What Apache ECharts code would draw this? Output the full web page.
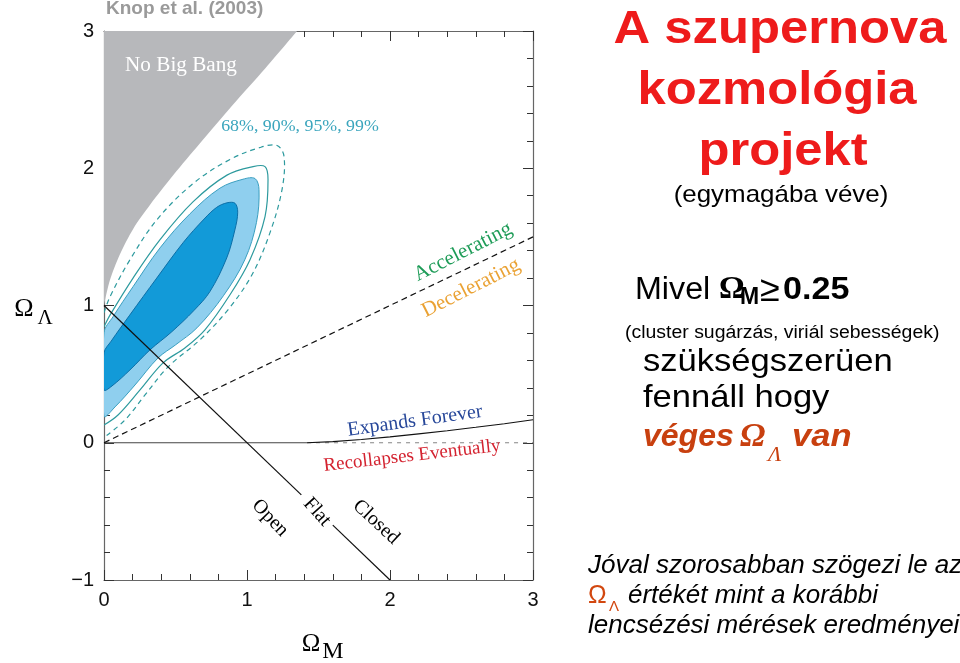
<!DOCTYPE html>
<html>
<head>
<meta charset="utf-8">
<title>A szupernova kozmológia projekt</title>
<script src="https://cdn.jsdelivr.net/npm/echarts@6/dist/echarts.min.js"></script>
<style>
  html, body { margin: 0; padding: 0; background: #fff; }
  #chart { width: 960px; height: 663px; }
</style>
</head>
<body>
<div id="chart"></div>
<script>
// Omega_M (x) against Omega_Lambda (y)
const noBigBangEdge = [[0, 1.0], [0.04, 1.18], [0.11, 1.37], [0.205, 1.56], [0.32, 1.73],
  [0.485, 1.95], [0.67, 2.18], [0.90, 2.46], [1.13, 2.73], [1.35, 3.0]];

// confidence contours (cut by the Omega_M = 0 axis)
const contour68 = [[0, 0.655], [0.05, 0.74], [0.18, 0.93], [0.369, 1.2], [0.555, 1.46],
  [0.70, 1.63], [0.788, 1.715], [0.86, 1.748], [0.916, 1.745], [0.935, 1.68], [0.915, 1.55],
  [0.858, 1.346], [0.741, 1.102], [0.63, 0.965], [0.47, 0.805], [0.322, 0.677], [0.182, 0.531],
  [0.056, 0.414], [0, 0.385]];
const contour90 = [[0, 0.801], [0.063, 0.918], [0.203, 1.137], [0.392, 1.420], [0.601, 1.668],
  [0.811, 1.855], [0.972, 1.920], [1.056, 1.925], [1.084, 1.845], [1.066, 1.604], [0.985, 1.334],
  [0.835, 1.071], [0.650, 0.837], [0.500, 0.713], [0.378, 0.618], [0.217, 0.421], [0.077, 0.261], [0, 0.195]];
const contour95 = [[0, 0.845], [0.042, 0.930], [0.203, 1.200], [0.392, 1.480], [0.622, 1.755],
  [0.860, 1.950], [1.042, 2.012], [1.126, 2.012], [1.147, 1.918], [1.126, 1.648], [1.021, 1.334],
  [0.881, 1.078], [0.706, 0.823], [0.566, 0.691], [0.413, 0.582], [0.252, 0.385], [0.098, 0.202], [0, 0.129]];
const contour99 = [[0, 0.947], [0.042, 1.064], [0.182, 1.334], [0.371, 1.626], [0.622, 1.888],
  [0.881, 2.064], [1.091, 2.151], [1.210, 2.166], [1.259, 2.086], [1.245, 1.845], [1.161, 1.531],
  [1.035, 1.224], [0.867, 0.969], [0.671, 0.750], [0.448, 0.553], [0.287, 0.348], [0.147, 0.166], [0.014, 0.049]];

const flatLineA = [[0, 1], [1.38, -0.38]];
const flatLineB = [[1.6, -0.6], [2, -1]];
const accelLine = [[0, 0], [3, 1.5]];
const zeroLine = [[0, 0], [1.42, 0]];
const zeroDashed = [[1.42, 0], [3, 0]];
const recollapseEdge = [[1.42, 0], [1.6, 0.008], [1.8, 0.024], [2.0, 0.043], [2.2, 0.065],
  [2.4, 0.088], [2.6, 0.113], [2.8, 0.139], [3.0, 0.167]];

const SANS = '"Liberation Sans", Arial, sans-serif';
const SERIF = '"Liberation Serif", "Times New Roman", serif';

function shape(type, points, style) {
  return {
    type: 'custom',
    coordinateSystem: 'cartesian2d',
    clip: true,
    silent: true,
    data: [[0, 0]],
    renderItem: function (params, api) {
      return {
        type: type,
        shape: { points: points.map(function (p) { return api.coord(p); }), smooth: 0.35 },
        style: style
      };
    }
  };
}

function line(data, color, width, type) {
  return {
    type: 'line', data: data, showSymbol: false, silent: true,
    lineStyle: { color: color, width: width, type: type || 'solid' }
  };
}

function txt(text, x, y, o) {
  o = o || {};
  return {
    type: 'text', x: x, y: y, z: 100,
    rotation: (o.rot || 0) * Math.PI / 180,
    scaleX: o.sx || 1,
    style: {
      text: text,
      fontFamily: o.family || SANS,
      fontSize: o.size || 16,
      fontWeight: o.weight || 'normal',
      fontStyle: o.style || 'normal',
      fill: o.color || '#000',
      align: o.align || 'left',
      verticalAlign: 'middle'
    }
  };
}

function axisCommon(showLabel) {
  return {
    type: 'value',
    interval: 1,
    axisLine: { show: true, onZero: false, lineStyle: { color: '#666', width: 1.2 } },
    axisTick: { show: true, inside: true, length: 10, lineStyle: { color: '#333' } },
    minorTick: { show: true, splitNumber: 5, length: 6, lineStyle: { color: '#333' } },
    splitLine: { show: false },
    minorSplitLine: { show: false },
    axisLabel: {
      show: showLabel, margin: 10, fontSize: 20, color: '#111', fontFamily: SANS,
      showMinLabel: true, showMaxLabel: true,
      formatter: function (v) { return v < 0 ? '\u2212' + (-v) : String(v); }
    }
  };
}

const chart = echarts.init(document.getElementById('chart'));
chart.setOption({
  animation: false,
  backgroundColor: '#fff',
  grid: { left: 104, top: 31, width: 429, height: 549 },
  xAxis: [
    Object.assign(axisCommon(true), { min: 0, max: 3, position: 'bottom' }),
    Object.assign(axisCommon(false), { min: 0, max: 3, position: 'top' })
  ],
  yAxis: [
    Object.assign(axisCommon(true), { min: -1, max: 3, position: 'left' }),
    Object.assign(axisCommon(false), { min: -1, max: 3, position: 'right' })
  ],
  series: [
    {
      type: 'line', data: noBigBangEdge, smooth: 0.3, showSymbol: false, silent: true,
      lineStyle: { width: 0 },
      areaStyle: { color: '#b7b8bb', origin: 'end', opacity: 1 }
    },
    shape('polygon', contour90, { fill: '#8fcfee', stroke: '#3a9fc0', lineWidth: 1 }),
    shape('polygon', contour68, { fill: '#129ad8', stroke: '#0b6fa8', lineWidth: 1 }),
    shape('polyline', contour95, { fill: null, stroke: '#2d9a9e', lineWidth: 1.2 }),
    shape('polyline', contour99, { fill: null, stroke: '#2d9a9e', lineWidth: 1.2, lineDash: [5, 4] }),
    line(zeroLine, '#444', 1),
    line(zeroDashed, '#666', 0.8, [4, 5]),
    line(recollapseEdge, '#111', 1.1),
    line(accelLine, '#111', 1.2, [6, 4]),
    line(flatLineA, '#111', 1.2),
    line(flatLineB, '#111', 1.2)
  ],
  graphic: {
    elements: [
      txt('Knop et al. (2003)', 106, 9, { size: 19, weight: 'bold', color: '#9a9a9a' }),
      txt('No Big Bang', 181, 66, { size: 20, family: SERIF, color: '#fff', align: 'center', sx: 1.06 }),
      txt('68%, 90%, 95%, 99%', 300, 127, { size: 17, family: SERIF, color: '#3aa5bd', align: 'center', sx: 1.05 }),
      txt('Accelerating', 463, 252, { size: 21, family: SERIF, color: '#1e9c58', align: 'center', rot: 27 }),
      txt('Decelerating', 471, 288, { size: 21, family: SERIF, color: '#eaa234', align: 'center', rot: 27 }),
      txt('Expands Forever', 415, 421, { size: 20, family: SERIF, color: '#28489a', align: 'center', rot: 8 }),
      txt('Recollapses Eventually', 412, 456, { size: 19, family: SERIF, color: '#d42330', align: 'center', rot: 6.5 }),
      txt('Open', 270, 518, { size: 20, family: SERIF, align: 'center', rot: -46 }),
      txt('Flat', 317, 512, { size: 20, family: SERIF, align: 'center', rot: -48 }),
      txt('Closed', 376, 522, { size: 20, family: SERIF, align: 'center', rot: -43 }),
      txt('Ω', 24, 309, { size: 26, family: SERIF, align: 'center' }),
      txt('Λ', 45, 318, { size: 21, family: SERIF, align: 'center' }),
      txt('Ω', 311, 644, { size: 25, family: SERIF, align: 'center' }),
      txt('M', 333, 652, { size: 24, family: SERIF, align: 'center' }),

      txt('A szupernova', 780, 30, { size: 47, weight: 'bold', color: '#ee1b1b', align: 'center', sx: 1.08 }),
      txt('kozmológia', 777, 91, { size: 47, weight: 'bold', color: '#ee1b1b', align: 'center', sx: 1.08 }),
      txt('projekt', 783, 152, { size: 47, weight: 'bold', color: '#ee1b1b', align: 'center', sx: 1.08 }),
      txt('(egymagába véve)', 781, 195, { size: 24, align: 'center', sx: 1.08 }),
      txt('Mivel', 635, 290, { size: 31, sx: 1.04 }),
      txt('Ω', 719, 290, { size: 32, weight: 'bold', family: SERIF }),
      txt('M', 740, 298, { size: 23, weight: 'bold' }),
      txt('≥', 760, 291, { size: 36 }),
      txt('0.25', 783, 290, { size: 31, weight: 'bold', sx: 1.1 }),
      txt('(cluster sugárzás, viriál sebességek)', 625, 333, { size: 18, sx: 1.08 }),
      txt('szükségszerüen', 643, 362, { size: 32, sx: 1.08 }),
      txt('fennáll hogy', 643, 398, { size: 32, sx: 1.08 }),
      txt('véges', 643, 437, { size: 32, weight: 'bold', style: 'italic', color: '#c8400f' }),
      txt('Ω', 740, 437, { size: 34, weight: 'bold', style: 'italic', color: '#c8400f', family: SERIF }),
      txt('Λ', 768, 455, { size: 22, style: 'italic', color: '#c8400f', family: SERIF }),
      txt('van', 792, 437, { size: 32, weight: 'bold', style: 'italic', color: '#c8400f', sx: 1.08 }),
      txt('Jóval szorosabban szögezi le az', 588, 566, { size: 25, style: 'italic', sx: 1.04 }),
      txt('Ω', 588, 596, { size: 25, color: '#d2470f' }),
      txt('Λ', 609, 607, { size: 15, color: '#d2470f' }),
      txt('értékét mint a korábbi', 628, 596, { size: 25, style: 'italic', sx: 1.04 }),
      txt('lencsézési mérések eredményei', 588, 626, { size: 25, style: 'italic', sx: 1.04 })
    ]
  }
});
</script>
</body>
</html>
